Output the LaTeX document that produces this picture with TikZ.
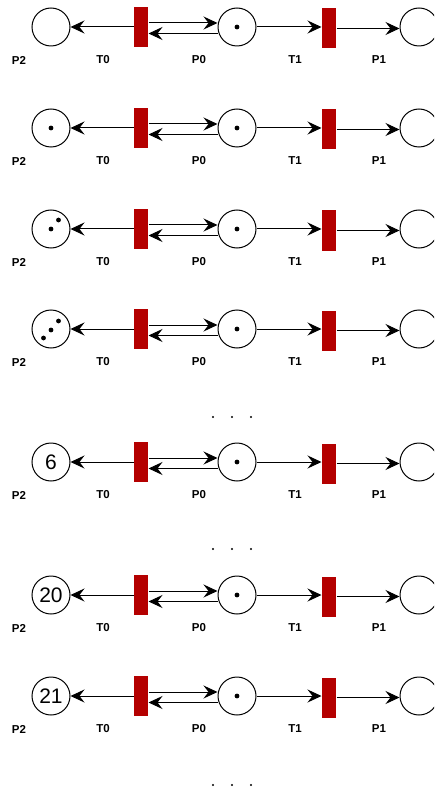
\documentclass[tikz,border=0pt]{standalone}
\usepackage{fontspec}
\setmainfont{Liberation Sans}
\usetikzlibrary{arrows.meta}
\definecolor{transred}{RGB}{180,0,0}
\begin{document}
\begin{tikzpicture}[x=1pt,y=-1pt,line width=1pt,>={Stealth[length=14pt,width=13pt,inset=5pt]},
place/.style={circle,draw,line width=1pt,minimum size=38pt,inner sep=0pt,font=\fontsize{21}{21}\selectfont},
trans/.style={rectangle,fill=transred,minimum width=14pt,minimum height=40pt,inner sep=0pt},
lbl/.style={font=\fontsize{11.5}{13}\selectfont\bfseries}]
\useasboundingbox (0,0) rectangle (434,794);
\clip (0,0) rectangle (434,794);
% one row of the net per state
\foreach \r/\y/\n in {1/27/{},2/128/{},3/229/{},4/329/{},5/462/6,6/595/20,7/696/21} {
\node[place] (P2-\r) at (51,\y) {\n};
\node[trans] (T0-\r) at (141,\y) {};
\node[place] (P0-\r) at (237,\y) {};
\node[trans] (T1-\r) at (329,\y+1.5) {};
\node[place] (P1-\r) at (419,\y) {};
\fill (P0-\r) circle (2.4pt);
\draw[->] (T0-\r) -- (P2-\r);
\draw[->] ([yshift=4pt]T0-\r.east) -- ([yshift=4pt]P0-\r.west);
\draw[->] ([yshift=-6.5pt]P0-\r.west) -- ([yshift=-6.5pt]T0-\r.east);
\draw[->] (P0-\r.east) -- (P0-\r.east -| T1-\r.west);
\draw[->] (T1-\r.east) -- (T1-\r.east -| P1-\r.west);
\node[lbl] (lP2-\r) at (19,\y+33) {P2};
\node[lbl] (lT0-\r) at (103,\y+33) {T0};
\node[lbl] (lP0-\r) at (199,\y+33) {P0};
\node[lbl] (lT1-\r) at (295,\y+33) {T1};
\node[lbl] (lP1-\r) at (379,\y+33) {P1};
}
% tokens in P2
\fill (P2-2) circle (2.4pt);
\fill (P2-3) circle (2.4pt);
\fill ([shift={(7.5pt,9pt)}]P2-3.center) circle (2.4pt);
\fill ([shift={(-7.5pt,-9pt)}]P2-4.center) circle (2.4pt);
\fill ([shift={(0pt,-1pt)}]P2-4.center) circle (2.4pt);
\fill ([shift={(7.5pt,8pt)}]P2-4.center) circle (2.4pt);
% skipped states
\foreach \y in {417,549,785}
  \foreach \x in {213,232,251}
    \fill (\x,\y) circle (1.2pt);
\end{tikzpicture}
\end{document}
